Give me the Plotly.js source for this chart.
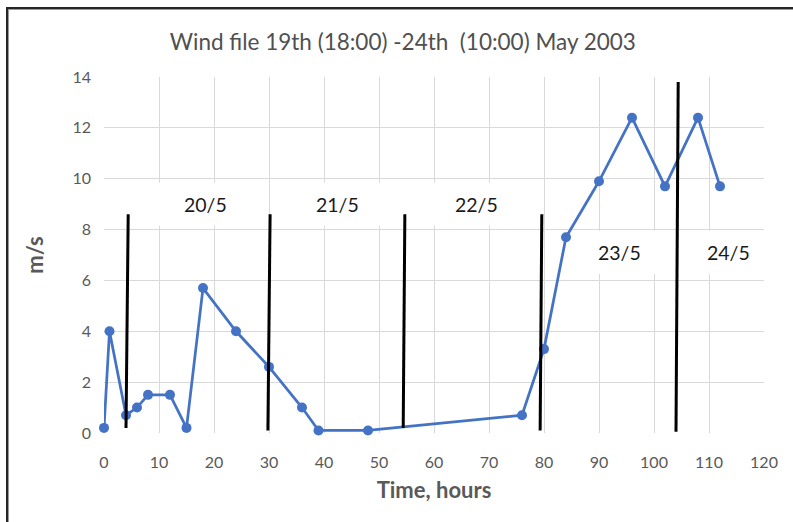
<!DOCTYPE html>
<html>
<head>
<meta charset="utf-8">
<script src="https://cdn.plot.ly/plotly-3.0.1.min.js"></script>
<style>
  html, body { margin: 0; padding: 0; background: #ffffff; }
  #wrap { position: relative; width: 793px; height: 522px; overflow: hidden; }
  #chart { position: absolute; left: 0; top: 0; width: 793px; height: 522px; }
  #frame {
    position: absolute; left: 6px; top: 7px; width: 820px; height: 560px;
    border-left: 2px solid #262626; border-top: 2px solid #262626;
    box-shadow: inset 1px 1px 0 #9a9a9a;
    pointer-events: none;
  }
</style>
</head>
<body>
<div id="wrap">
  <div id="chart"></div>
  <div id="frame"></div>
</div>
<script>
// Wind speed record, hours since 19 May 18:00
const hours = [0, 1, 4, 6, 8, 12, 15, 18, 24, 30, 36, 39, 48, 76, 80, 84, 90, 96, 102, 108, 112];
const speed = [0.2, 4.0, 0.7, 1.0, 1.5, 1.5, 0.2, 5.7, 4.0, 2.6, 1.0, 0.1, 0.1, 0.7, 3.3, 7.7, 9.9, 12.4, 9.7, 12.4, 9.7];

// Hand-drawn midnight divider lines (top and bottom ends)
const dividerTopX = [4.4, 30.2, 54.7, 79.6, 104.4];
const dividerTopY = [8.6, 8.6, 8.6, 8.6, 13.8];
const dividerBottomX = [4.0, 29.8, 54.4, 79.3, 104.0];
const dividerBottomY = [0.2, 0.1, 0.2, 0.1, 0.05];

// Day labels
const dayLabels = ['20/5', '21/5', '22/5', '23/5', '24/5'];
const dayLabelX = [18.4, 42.5, 67.8, 93.8, 113.6];
const dayLabelY = [9.0, 9.0, 9.0, 7.1, 7.1];

const xTicks = [0, 10, 20, 30, 40, 50, 60, 70, 80, 90, 100, 110, 120];
const yTicks = [0, 2, 4, 6, 8, 10, 12, 14];

const FONT = 'Lato, "Open Sans", sans-serif';
const GREY = '#595959';

// divider segments, one trace each
const dividerTraces = dividerTopX.map((tx, i) => ({
  x: [tx, dividerBottomX[i]],
  y: [dividerTopY[i], dividerBottomY[i]],
  mode: 'lines',
  line: { color: '#000000', width: 3 },
  hoverinfo: 'skip',
  showlegend: false
}));

const windTrace = {
  x: hours,
  y: speed,
  mode: 'lines+markers',
  line: { color: '#4472C4', width: 2.75 },
  marker: { color: '#4472C4', size: 10 },
  cliponaxis: false,
  showlegend: false
};

// white label boxes (half width / half height in axis units)
const boxHalfW = 9.6;
const boxHalfH = 0.85;
const labelBoxes = dayLabels.map((_, i) => ({
  type: 'rect', layer: 'between',
  xref: 'x', yref: 'y',
  x0: dayLabelX[i] - boxHalfW, x1: dayLabelX[i] + boxHalfW,
  y0: dayLabelY[i] - boxHalfH, y1: dayLabelY[i] + boxHalfH,
  fillcolor: '#ffffff', line: { width: 0 }
}));

const labelNotes = dayLabels.map((t, i) => ({
  x: dayLabelX[i], y: dayLabelY[i], xref: 'x', yref: 'y',
  text: t, showarrow: false,
  font: { family: FONT, size: 19.5, color: '#1a1a1a' }
}));

const layout = {
  width: 793, height: 522,
  margin: { l: 104, r: 29, t: 77, b: 89 },
  paper_bgcolor: '#ffffff', plot_bgcolor: '#ffffff',
  title: {
    text: 'Wind file 19th (18:00) -24th \u00a0(10:00) May 2003',
    font: { family: FONT, size: 22.5, color: '#505050', weight: 'normal' },
    x: 0.508, xref: 'container', xanchor: 'center',
    y: 0.92, yref: 'container', yanchor: 'middle'
  },
  xaxis: {
    range: [0, 120], tickvals: xTicks, ticktext: xTicks.map(String),
    showgrid: true, gridcolor: '#d9d9d9', gridwidth: 1,
    zeroline: false, showline: false, ticks: '',
    tickfont: { family: FONT, size: 16, color: GREY },
    ticklabelstandoff: 18,
    title: { text: 'Time, hours', font: { family: FONT, size: 22, color: GREY, weight: 'bold' }, standoff: 12 },
    fixedrange: true
  },
  yaxis: {
    range: [0, 14], tickvals: yTicks, ticktext: yTicks.map(String),
    showgrid: true, gridcolor: '#d9d9d9', gridwidth: 1,
    zeroline: false, showline: false, ticks: '',
    tickfont: { family: FONT, size: 16, color: GREY },
    ticklabelstandoff: 12,
    title: { text: 'm/s', font: { family: FONT, size: 22, color: GREY, weight: 'bold' }, standoff: 22 },
    fixedrange: true
  },
  shapes: labelBoxes,
  annotations: labelNotes
};

Plotly.newPlot('chart', [windTrace].concat(dividerTraces), layout, { displayModeBar: false, staticPlot: true });
</script>
</body>
</html>
